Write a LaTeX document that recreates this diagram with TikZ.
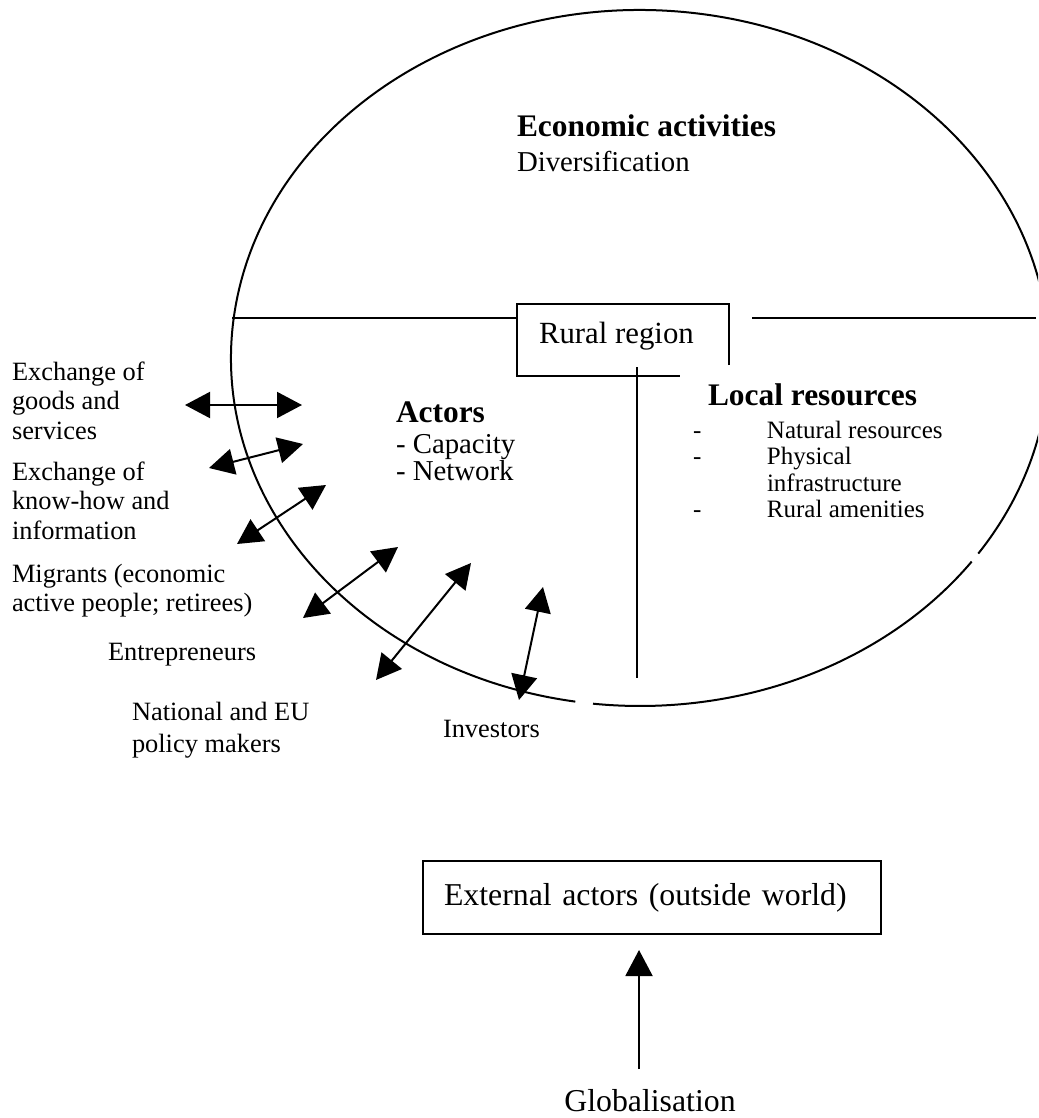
\documentclass[tikz,border=0pt]{standalone}
\usepackage{fontspec}
\setmainfont{Liberation Serif}
\usetikzlibrary{arrows.meta,calc}
\newcommand\fLab{\fontsize{13.2pt}{14.75pt}\selectfont}
\newcommand\fMid{\fontsize{14.4pt}{13.75pt}\selectfont}
\newcommand\fBig{\fontsize{15.4pt}{16pt}\selectfont}
\newcommand\fExt{\fontsize{15.9pt}{16pt}\selectfont}
\newcommand\fHead{\fontsize{15.7pt}{16pt}\selectfont\bfseries}
\newcommand\fSmall{\fontsize{12.5pt}{13.25pt}\selectfont}
\begin{document}
\begin{tikzpicture}[x=0.5pt,y=-0.5pt,line width=1pt,
  txt/.style={anchor=base west,inner sep=0pt,outer sep=0pt},
  dbl/.style={{Triangle[length=12.5pt,width=13pt]}-{Triangle[length=12.5pt,width=13pt]}},
  uni/.style={-{Triangle[length=13pt,width=13.5pt]}}]
\useasboundingbox (0,0) rectangle (1038,1118);
\clip (0,0) rectangle (1038,1118);
% the ellipse (rural region), with its two small gaps
\coordinate (ec) at (640,358);
\draw ($(ec)+(99.1:409 and 348)$) arc[start angle=99.1,end angle=394.2,x radius=409,y radius=348];
\draw ($(ec)+(35.8:409 and 348)$) arc[start angle=35.8,end angle=96.6,x radius=409,y radius=348];
% rural region box
\node[minimum width=106pt,minimum height=36pt,inner sep=0pt,outer sep=0pt] (rural) at (623,340) {};
\node[txt] (rtxt) at (539,343) {\fBig Rural region};
\draw ($(rural.south east)+(0,-11)$) -- (rural.north east) -- (rural.north west) -- (rural.south west) -- ($(rural.south west)+(163,0)$);
% dividing lines
\coordinate (hl) at (232,318);
\coordinate (hr1) at (752,318);
\coordinate (hr2) at (1036,318);
\draw (hl) -- (rural.west |- hl);
\draw (hr1) -- (hr2);
\coordinate (v1) at (637,367);
\coordinate (v2) at (637,678);
\draw (v1) -- (v2);
% inner texts
\node[txt] (econ) at (517,137) {\fHead Economic activities};
\node[txt] (div) at (517,172) {\fMid Diversification};
\node[txt] (act) at (396,422) {\fHead Actors};
\node[txt] (actl) at (396,453) {\fMid\vtop{\hbox{- Capacity}\hbox{- Network}}};
\node[txt] (loc) at (708,405) {\fHead Local resources};
\node[txt] (locl) at (693,438) {\fSmall\vtop{\hbox{\makebox[37pt][l]{-}Natural resources}\hbox{\makebox[37pt][l]{-}Physical}\hbox{\hspace{37pt}infrastructure}\hbox{\makebox[37pt][l]{-}Rural amenities}}};
% outer labels
\node[txt] (l1) at (12,380) {\fLab\vtop{\hbox{Exchange of}\hbox{goods and}\hbox{services}}};
\node[txt] (l2) at (12,480) {\fLab\vtop{\hbox{Exchange of}\hbox{know-how and}\hbox{information}}};
\node[txt] (l3) at (12,582) {\fLab\vtop{\hbox{Migrants (economic}\hbox{active people; retirees)}}};
\node[txt] (l4) at (108,660) {\fLab Entrepreneurs};
\node[txt] (l5) at (132,720) {\fontsize{13.2pt}{16pt}\selectfont\vtop{\hbox{National and EU}\hbox{policy makers}}};
\node[txt] (l6) at (443,737) {\fLab Investors};
% exchange arrows
\coordinate (a1s) at (185,405); \coordinate (a1e) at (302,405);
\coordinate (a2s) at (209,468); \coordinate (a2e) at (303,444);
\coordinate (a3s) at (237,544); \coordinate (a3e) at (326,485);
\coordinate (a4s) at (303,618); \coordinate (a4e) at (398,547);
\coordinate (a5s) at (376,680); \coordinate (a5e) at (471,563);
\coordinate (a6s) at (519,700); \coordinate (a6e) at (543,587);
\draw[dbl] (a1s) -- (a1e);
\draw[dbl] (a2s) -- (a2e);
\draw[dbl] (a3s) -- (a3e);
\draw[dbl] (a4s) -- (a4e);
\draw[dbl] (a5s) -- (a5e);
\draw[dbl] (a6s) -- (a6e);
% external actors and globalisation
\node[draw,anchor=north west,inner xsep=10.5pt,inner ysep=0pt,minimum height=36.5pt,text width=208pt,align=left,font=\fExt] (ext) at (422,860) {External actors (outside world)};
\node[txt,anchor=base] (glob) at (650,1111) {\fExt Globalisation};
\coordinate (g0) at (639,1069);
\coordinate (g1) at (639,950);
\draw[uni] (g0) -- (g1);
\end{tikzpicture}
\end{document}
